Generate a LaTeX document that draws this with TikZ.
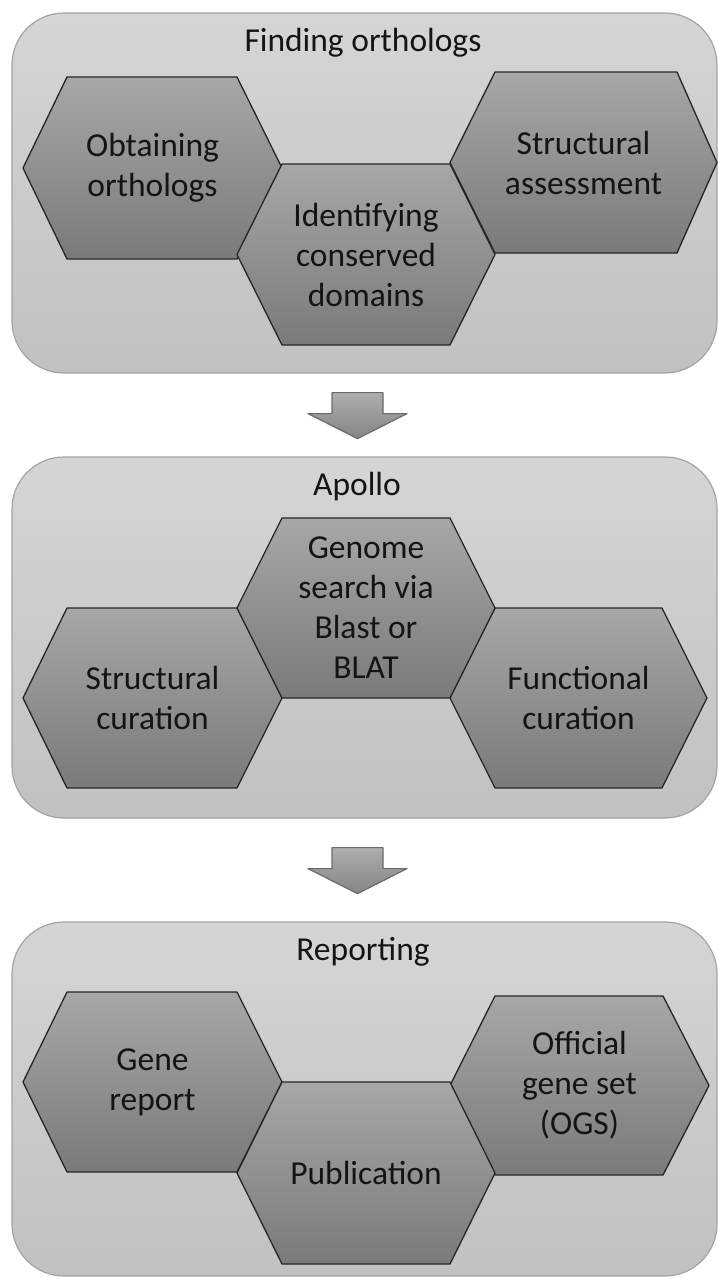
\documentclass[tikz,border=0pt]{standalone}
\usepackage{fontspec}
\setmainfont{Carlito}
\usetikzlibrary{calc}
\definecolor{panTop}{HTML}{D5D5D5}
\definecolor{panBot}{HTML}{C1C1C1}
\definecolor{panLine}{HTML}{A4A4A4}
\definecolor{hexTop}{HTML}{A7A7A7}
\definecolor{hexBot}{HTML}{7A7A7A}
\definecolor{hexLine}{HTML}{262626}
\definecolor{arrTop}{HTML}{AEAEAE}
\definecolor{arrBot}{HTML}{858585}
\definecolor{arrLine}{HTML}{6A6A6A}
\tikzset{
  panel/.style={draw=panLine, line width=1.2bp, top color=panTop, bottom color=panBot,
    rounded corners=52bp, inner sep=0pt},
  hexcell/.style={draw=hexLine, line width=1.3bp, top color=hexTop, bottom color=hexBot, line join=miter},
  hexlabel/.style={align=center, font=\fontsize{33.5bp}{40bp}\selectfont, text=black!92, inner sep=0pt},
  paneltitle/.style={font=\fontsize{33.5bp}{40bp}\selectfont, text=black!92, inner sep=0pt},
  blockarrow/.style={draw=arrLine, line width=1.2bp, top color=arrTop, bottom color=arrBot, line join=round},
}
% name, left point x, top-left x, top-right x, right point x, top y, bottom y, text
\newcommand\HexCell[8]{%
  \path[hexcell] (#2,{(#6+#7)/2}) -- (#3,#6) -- (#4,#6) -- (#5,{(#6+#7)/2}) -- (#4,#7) -- (#3,#7) -- cycle;
  \node[hexlabel] (#1) at ({(#2+#5)/2},{(#6+#7)/2}) {#8};%
}
\newcommand\BlockArrow[1]{%
  \path[blockarrow, shift={(#1)}] (-25.5,0) -- (25.5,0) -- (25.5,21) -- (49.5,21) -- (0,46)
    -- (-49.5,21) -- (-25.5,21) -- cycle;%
}
\begin{document}
\begin{tikzpicture}[x=1bp, y=-1bp]
\useasboundingbox (0,0) rectangle (718,1277);
\fill[white] (0,0) rectangle (718,1277);

% panels
\node[panel, minimum width=705bp, minimum height=360bp] (p1) at (364.5,193) {};
\node[panel, minimum width=705bp, minimum height=361bp] (p2) at (364.5,637.5) {};
\node[panel, minimum width=705bp, minimum height=354bp] (p3) at (364.5,1099) {};

% titles
\node[paneltitle] (t1) at (363,43) {Finding orthologs};
\node[paneltitle] (t2) at (357,487) {Apollo};
\node[paneltitle] (t3) at (363,952) {Reporting};

% panel 1
\HexCell{obt}{23}{67}{237}{282}{77}{259}{Obtaining\\orthologs}
\HexCell{ide}{237}{282}{450}{495}{164}{345}{Identifying\\conserved\\domains}
\HexCell{sta}{450}{495}{677}{717}{72}{253}{Structural\\assessment}

% panel 2
\HexCell{scu}{23}{67}{237}{282}{608}{788}{Structural\\curation}
\HexCell{fcu}{450}{495}{662}{707}{608}{788}{Functional\\curation}
\HexCell{gen}{237}{282}{450}{495}{518}{698}{Genome\\search via\\Blast or\\BLAT}

% panel 3
\HexCell{gre}{23}{67}{237}{282}{992}{1172}{Gene\\report}
\HexCell{ogs}{450}{495}{663}{709}{996}{1175}{Official\\gene set\\(OGS)}
\HexCell{pub}{237}{282}{450}{495}{1082}{1264}{Publication}

% arrows between panels
\coordinate (a1) at ($(p1.south)+(-7,19)$);
\coordinate (a2) at ($(p2.south)+(-7,29)$);
\BlockArrow{a1}
\BlockArrow{a2}
\end{tikzpicture}
\end{document}
